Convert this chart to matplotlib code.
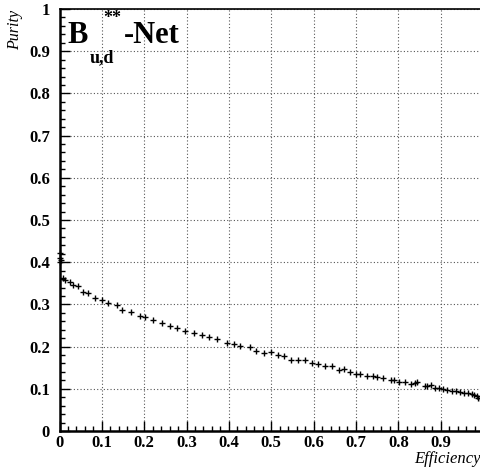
import matplotlib.pyplot as plt
from matplotlib.ticker import MultipleLocator

# Purity vs efficiency for the B** network output
efficiency = [0.001, 0.002, 0.003, 0.0, 0.009, 0.014, 0.024, 0.032, 0.043, 0.056, 0.067,
              0.085, 0.101, 0.114, 0.135, 0.148, 0.168, 0.190, 0.201, 0.221, 0.242,
              0.262, 0.278, 0.297, 0.317, 0.337, 0.354, 0.372, 0.395, 0.411, 0.427,
              0.450, 0.465, 0.484, 0.499, 0.517, 0.531, 0.546, 0.562, 0.580, 0.596,
              0.610, 0.627, 0.643, 0.659, 0.671, 0.686, 0.700, 0.710, 0.727, 0.740,
              0.749, 0.765, 0.782, 0.790, 0.802, 0.816, 0.829, 0.839, 0.845, 0.862,
              0.867, 0.877, 0.887, 0.897, 0.906, 0.916, 0.926, 0.936, 0.946, 0.955,
              0.965, 0.973, 0.979, 0.985, 0.989, 0.993]
purity = [0.421, 0.411, 0.406, 0.401, 0.363, 0.359, 0.354, 0.347, 0.344, 0.330, 0.326,
          0.316, 0.310, 0.304, 0.298, 0.286, 0.281, 0.273, 0.269, 0.263, 0.257,
          0.248, 0.244, 0.238, 0.232, 0.228, 0.222, 0.217, 0.209, 0.205, 0.202,
          0.198, 0.190, 0.185, 0.187, 0.180, 0.178, 0.169, 0.169, 0.169, 0.161,
          0.158, 0.153, 0.153, 0.145, 0.147, 0.140, 0.136, 0.136, 0.131, 0.131,
          0.128, 0.126, 0.121, 0.121, 0.116, 0.117, 0.111, 0.113, 0.115, 0.106,
          0.106, 0.109, 0.102, 0.101, 0.099, 0.097, 0.095, 0.094, 0.092, 0.091,
          0.090, 0.088, 0.086, 0.082, 0.079, 0.078]

ticks = [0, 0.1, 0.2, 0.3, 0.4, 0.5, 0.6, 0.7, 0.8, 0.9, 1]
tick_labels = ["0", "0.1", "0.2", "0.3", "0.4", "0.5", "0.6", "0.7", "0.8", "0.9", "1"]

plt.rcParams['font.family'] = ['Liberation Serif', 'DejaVu Serif']

fig = plt.figure(figsize=(4.8, 4.68), dpi=100)
ax = fig.add_axes([59.5 / 480, 1 - 431 / 468, (483 - 59.5) / 480, 422 / 468])

ax.plot(efficiency, purity, linestyle='none', marker='+', color='black',
        markersize=5, markeredgewidth=1.0, clip_on=False)

ax.set_xlim(0, 1)
ax.set_ylim(0, 1)
ax.set_xticks(ticks)
ax.set_xticklabels(tick_labels, fontweight='bold', fontsize=12)
ax.set_yticks(ticks)
ax.set_yticklabels(tick_labels, fontweight='bold', fontsize=12)
ax.xaxis.set_minor_locator(MultipleLocator(0.02))
ax.yaxis.set_minor_locator(MultipleLocator(0.02))
ax.tick_params(which='major', direction='in', length=7, width=1)
ax.tick_params(which='minor', direction='in', length=3.5, width=1)
ax.tick_params(axis='x', which='major', pad=3)
ax.tick_params(axis='y', which='major', pad=7)
ax.tick_params(top=False, right=False)

ax.grid(True, which='major', linestyle=(0, (1, 2)), color='#555555', linewidth=0.8)

for side in ['left', 'bottom']:
    ax.spines[side].set_linewidth(1.8)
ax.spines['top'].set_linewidth(1.2)
ax.spines['right'].set_linewidth(1.2)

fig.text(15 / 480, 1 - 30 / 468, 'Purity', rotation=90, style='italic',
         fontsize=11.5, ha='center', va='center')
fig.text(481 / 480, 1 - 459 / 468, 'Efficiency', style='italic',
         fontsize=12, ha='right', va='center')

# Title "B**_{u,d}-Net"
fig.text(67 / 480, 1 - 43 / 468, 'B', fontsize=22, fontweight='bold', ha='left', va='baseline')
fig.text(103 / 480, 1 - 23 / 468, '**', fontsize=13, fontweight='bold', ha='left', va='baseline')
fig.text(90 / 480, 1 - 62 / 468, 'u,d', fontsize=13, fontweight='bold', ha='left', va='baseline')
fig.text(124 / 480, 1 - 43 / 468, '-Net', fontsize=22, fontweight='bold', ha='left', va='baseline')

fig.savefig('out.png', dpi=100)
